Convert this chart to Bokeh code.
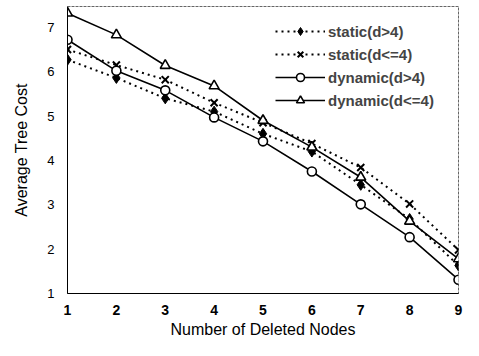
from bokeh.plotting import figure
from bokeh.models import FixedTicker, Range1d, Legend
from bokeh.embed import file_html
from bokeh.resources import INLINE

x = [1, 2, 3, 4, 5, 6, 7, 8, 9]
static_gt4 = [6.27, 5.86, 5.40, 5.10, 4.60, 4.20, 3.45, 2.68, 1.63]
static_le4 = [6.50, 6.15, 5.82, 5.30, 4.85, 4.38, 3.84, 3.02, 1.98]
dynamic_gt4 = [6.72, 6.02, 5.58, 4.97, 4.43, 3.75, 3.01, 2.27, 1.31]
dynamic_le4 = [7.32, 6.83, 6.14, 5.68, 4.90, 4.30, 3.62, 2.63, 1.78]
x_ticks = [1, 2, 3, 4, 5, 6, 7, 8, 9]
y_ticks = [1, 2, 3, 4, 5, 6, 7]
labels = ["static(d>4)", "static(d<=4)", "dynamic(d>4)", "dynamic(d<=4)"]

FONT = "Liberation Sans"

p = figure(width=463, height=340, output_backend="svg", toolbar_location=None,
           x_range=Range1d(1, 9), y_range=Range1d(1, 7.47),
           min_border_left=67, min_border_right=5, min_border_top=6, min_border_bottom=46)

p.xgrid.visible = False
p.ygrid.visible = False
p.outline_line_color = "black"
p.outline_line_alpha = 0.6
p.outline_line_dash = "3 1"

p.xaxis.ticker = FixedTicker(ticks=x_ticks)
p.yaxis.ticker = FixedTicker(ticks=y_ticks)
for ax in (p.xaxis[0], p.yaxis[0]):
    ax.major_tick_out = 0
    ax.major_tick_in = 0
    ax.minor_tick_out = 0
    ax.minor_tick_in = 0
    ax.axis_line_color = "black"
    ax.major_label_text_font = FONT
    ax.axis_label_text_font = FONT
    ax.axis_label_text_font_style = "normal"
    ax.axis_label_text_color = "black"
    ax.major_label_text_color = "black"

p.xaxis.axis_label = "Number of Deleted Nodes"
p.yaxis.axis_label = "Average Tree Cost"
p.xaxis.major_label_text_font_size = "14px"
p.xaxis.major_label_text_font_style = "bold"
p.yaxis.major_label_text_font_size = "13px"
p.xaxis.axis_label_text_font_size = "16px"
p.yaxis.axis_label_text_font_size = "16px"
p.xaxis.major_label_standoff = 11
p.yaxis.major_label_standoff = 13
p.xaxis.axis_label_standoff = 3
p.yaxis.axis_label_standoff = 14

dash = "2 4"
r1 = p.line(x, static_gt4, line_color="black", line_width=2, line_dash=dash)
m1 = p.scatter(x, static_gt4, marker="diamond", size=11, fill_color="black", line_color="black")
r2 = p.line(x, static_le4, line_color="black", line_width=2, line_dash=dash)
m2 = p.scatter(x, static_le4, marker="x", size=10, line_color="black", line_width=2)
r3 = p.line(x, dynamic_gt4, line_color="black", line_width=1.6)
m3 = p.scatter(x, dynamic_gt4, marker="circle", size=9, fill_color="white", line_color="black", line_width=1.6)
r4 = p.line(x, dynamic_le4, line_color="black", line_width=1.6)
m4 = p.scatter(x, dynamic_le4, marker="triangle", size=10, fill_color="white", line_color="black", line_width=1.6)

legend = Legend(items=[(labels[0], [r1, m1]), (labels[1], [r2, m2]),
                       (labels[2], [r3, m3]), (labels[3], [r4, m4])],
                location=(208, 183))
legend.padding = 0
legend.margin = 0
legend.border_line_color = None
legend.background_fill_alpha = 0
legend.glyph_width = 50
legend.glyph_height = 20
legend.label_height = 20
legend.spacing = 3
legend.label_standoff = 3
legend.label_text_font = FONT
legend.label_text_font_size = "15px"
legend.label_text_font_style = "bold"
p.add_layout(legend, "center")

open("out.html", "w").write(file_html(p, INLINE))
